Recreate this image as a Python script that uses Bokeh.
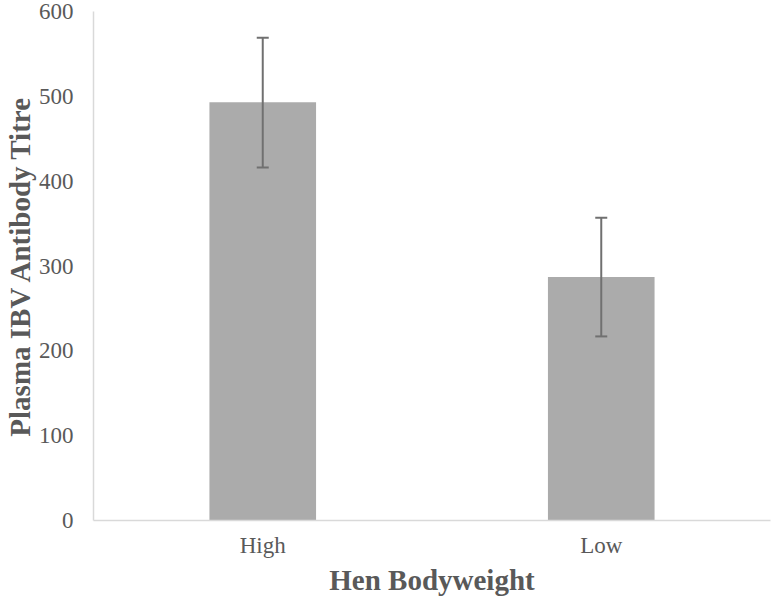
from bokeh.plotting import figure
from bokeh.models import ColumnDataSource, Whisker, TeeHead, Range1d, FactorRange
from bokeh.embed import file_html
from bokeh.resources import INLINE

categories = ["High", "Low"]
means = [493, 287]
upper = [569, 357]
lower = [416, 217]
y_ticks = [0, 100, 200, 300, 400, 500, 600]

src = ColumnDataSource(data=dict(cat=categories, mean=means, upper=upper, lower=lower))

p = figure(x_range=FactorRange(*categories, range_padding=0), y_range=Range1d(0, 600),
           width=772, height=598, output_backend="svg", toolbar_location=None,
           min_border_left=80, min_border_right=2, min_border_top=11, min_border_bottom=70)
p.outline_line_color = None
p.background_fill_color = "white"
p.border_fill_color = "white"

p.vbar(x="cat", top="mean", width=0.315, source=src, fill_color="#ABABAB", line_color=None)

w = Whisker(source=src, base="cat", upper="upper", lower="lower",
            line_color="#707070", line_width=2, level="overlay",
            upper_head=TeeHead(size=12, line_color="#707070", line_width=2),
            lower_head=TeeHead(size=12, line_color="#707070", line_width=2))
p.add_layout(w)

p.xgrid.grid_line_color = None
p.ygrid.grid_line_color = None

font = "Liberation Serif"
for ax in (p.xaxis[0], p.yaxis[0]):
    ax.axis_line_color = "#D9D9D9"
    ax.axis_line_width = 1.5
    ax.major_tick_line_color = None
    ax.minor_tick_line_color = None
    ax.major_label_text_font = font
    ax.major_label_text_font_size = "23px"
    ax.major_label_text_color = "#595959"
    ax.axis_label_text_font = font
    ax.axis_label_text_font_size = "29px"
    ax.axis_label_text_font_style = "bold"
    ax.axis_label_text_color = "#595959"

p.yaxis.ticker = y_ticks
p.yaxis.axis_label = "Plasma IBV Antibody Titre"
p.yaxis.major_label_standoff = 14
p.yaxis.axis_label_standoff = 0
p.xaxis.axis_label = "Hen Bodyweight"
p.xaxis.major_label_standoff = 6
p.xaxis.axis_label_standoff = 3

open("out.html", "w").write(file_html(p, INLINE))
